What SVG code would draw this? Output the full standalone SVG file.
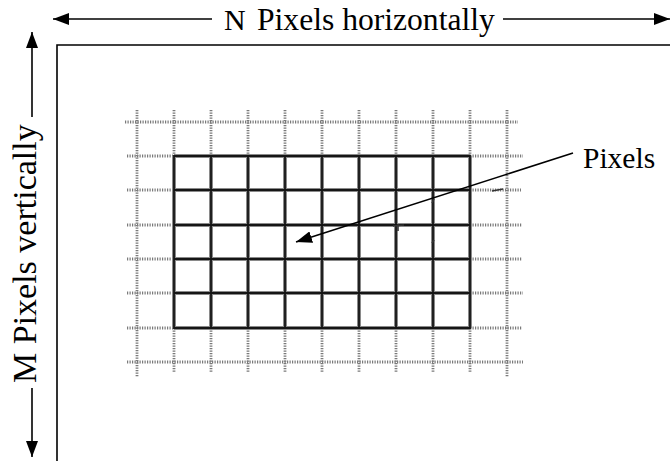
<svg xmlns="http://www.w3.org/2000/svg" width="670" height="461" viewBox="0 0 670 461">
<style>
.txt{font-family:"Liberation Serif","Times New Roman",serif;fill:#000}
.dot{stroke:#7a7a7a;stroke-width:2.8;stroke-dasharray:1.2 1.3;fill:none}
.solidU{stroke:#8a8a8a;stroke-width:4;fill:none}
.solid{stroke:#151515;stroke-width:1.8;fill:none}
.arr{stroke:#000;stroke-width:1.6;fill:none}
.frame{stroke:#000;stroke-width:1.6;fill:none}
</style>
<defs>
<marker id="ah" viewBox="0 0 16 12" refX="16" refY="6" markerWidth="16" markerHeight="12" markerUnits="userSpaceOnUse" orient="auto">
<path d="M0,0 L16,6 L0,12 Z" fill="#000"/>
</marker>
</defs>
<rect width="670" height="461" fill="#fff"/>
<g id="frame">
<path class="frame" d="M57,461 V45 H670"/>
</g>
<g id="grid">
<g id="dotted">
<path class="dot" d="M125,122 H518 M127,362 H523"/>
<path class="dot" d="M127,156 H174 M127,190 H174 M127,225 H174 M127,259 H174 M127,293 H174 M127,328 H174"/>
<path class="dot" d="M470,156 H523 M470,190 H521 M470,225 H522 M470,259 H522 M470,293 H523 M470,328 H522"/>
<path class="dot" d="M137,110 V377 M507,110 V377"/>
<path class="dot" d="M174,110 V156 M211,110 V156 M248,110 V156 M285,110 V156 M322,110 V156 M359,110 V156 M396,110 V156 M433,110 V156 M470,110 V156"/>
<path class="dot" d="M174,328 V373 M211,328 V373 M248,328 V373 M285,328 V373 M322,328 V373 M359,328 V373 M396,328 V373 M433,328 V373 M470,328 V373"/>
</g>
<g id="solid-grid">
<path class="solidU" d="M174,156 V328 M211,156 V328 M248,156 V328 M285,156 V328 M322,156 V328 M359,156 V328 M396,156 V328 M433,156 V328 M470,156 V328"/>
<path class="solidU" d="M174,156 H470 M174,190 H470 M174,225 H470 M174,259 H470 M174,293 H470 M174,328 H470" stroke-width="3"/>
<path class="solid" d="M174,156 H470 V328 H174 Z M211,156 V328 M248,156 V328 M285,156 V328 M322,156 V328 M359,156 V328 M396,156 V328 M433,156 V328 M174,190 H470 M174,225 H470 M174,259 H470 M174,293 H470"/>
</g>
<g id="marks" stroke="#333" stroke-width="1.6" fill="none">
<path d="M492,191 L503,189"/>
<path d="M393,226 L404,225 M398,224 L398,231"/>
<path d="M432,203 L434,199"/>
<path d="M432,243 L434,240"/>
</g>
</g>
<g id="connectors">
<line class="arr" x1="212" y1="19" x2="53" y2="19" marker-end="url(#ah)"/>
<line class="arr" x1="503" y1="19" x2="670" y2="19" marker-end="url(#ah)"/>
<line class="arr" x1="32" y1="117" x2="32" y2="32" marker-end="url(#ah)"/>
<line class="arr" x1="32" y1="388" x2="32" y2="457" marker-end="url(#ah)"/>
<line class="arr" x1="573" y1="153" x2="296" y2="242" marker-end="url(#ah)"/>
</g>
<g id="labels">
<text class="txt" x="224" y="30" font-size="30">N</text>
<text class="txt" x="257" y="30" font-size="31.6">Pixels horizontally</text>
<text class="txt" x="583" y="168" font-size="29.5">Pixels</text>
<text class="txt" transform="translate(36,383) rotate(-90)" font-size="34">M Pixels vertically</text>
</g>
</svg>
